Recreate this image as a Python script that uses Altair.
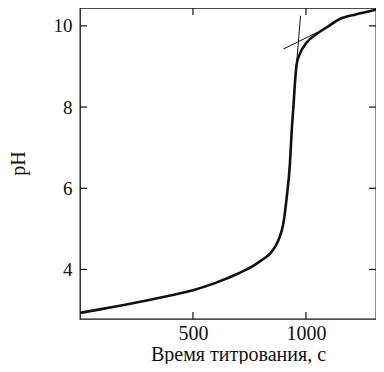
import altair as alt
import pandas as pd

# Titration curve (time in s, pH)
time_s = [0, 100, 200, 300, 400, 500, 600, 700, 770, 804, 841, 878, 900, 915, 929, 937,
          945, 951, 959, 973, 1003, 1047, 1091, 1150, 1220, 1290, 1345]
ph = [2.93, 3.03, 3.13, 3.24, 3.36, 3.49, 3.67, 3.90, 4.10, 4.23, 4.39, 4.72, 5.13, 5.78,
      6.60, 7.42, 8.05, 8.57, 9.06, 9.31, 9.59, 9.80, 9.96, 10.17, 10.28, 10.37, 10.45]

# construction lines
tangent_t = [900, 1050]
tangent_ph = [9.43, 9.84]
vertical_t = [976, 959]
vertical_ph = [10.25, 9.10]

x_ticks = [500, 1000]
y_ticks = [4, 6, 8, 10]

W, H = 296, 311
FONT = "Liberation Serif"
INK = "#111111"

curve_df = pd.DataFrame({"t": time_s, "ph": ph})
tan_df = pd.DataFrame({"t": tangent_t, "ph": tangent_ph})
vert_df = pd.DataFrame({"t": vertical_t, "ph": vertical_ph})
xt_df = pd.DataFrame({"t": x_ticks})
yt_df = pd.DataFrame({"ph": y_ticks})

xs = alt.Scale(domain=[0, 1310], nice=False, zero=False)
ys = alt.Scale(domain=[2.78, 10.44], nice=False, zero=False)

x_axis = alt.Axis(values=x_ticks, format="d", ticks=False, domain=False, grid=False,
                  labelFont=FONT, labelFontSize=20, labelColor=INK,
                  labelBaseline="alphabetic", labelPadding=20,
                  title="Время титрования, с", titleFont=FONT, titleFontSize=20,
                  titleFontWeight="normal", titleColor=INK,
                  titleX=158, titleY=41, titleBaseline="alphabetic")
y_axis = alt.Axis(values=y_ticks, format="d", ticks=False, domain=False, grid=False,
                  labelFont=FONT, labelFontSize=19, labelColor=INK,
                  labelPadding=8,
                  title="pH", titleFont=FONT, titleFontSize=20,
                  titleFontWeight="normal", titleColor=INK,
                  titleX=-62, titleY=155, titleAngle=-90, titleBaseline="middle")

X = alt.X("t:Q", scale=xs, axis=x_axis)
Y = alt.Y("ph:Q", scale=ys, axis=y_axis)

curve = alt.Chart(curve_df).mark_line(color=INK, strokeWidth=2.6, clip=True,
                                      interpolate="monotone").encode(x=X, y=Y)
tangent = alt.Chart(tan_df).mark_line(color=INK, strokeWidth=1).encode(x=X, y=Y)
vertical = alt.Chart(vert_df).mark_line(color=INK, strokeWidth=1).encode(x=X, y=Y)

tick_len = 7
bottom_ticks = alt.Chart(xt_df).mark_rule(color=INK, strokeWidth=1.2).encode(
    x=X, y=alt.value(H), y2=alt.value(H - tick_len))
top_ticks = alt.Chart(xt_df).mark_rule(color=INK, strokeWidth=1.2).encode(
    x=X, y=alt.value(0), y2=alt.value(tick_len))
left_ticks = alt.Chart(yt_df).mark_rule(color=INK, strokeWidth=1.2).encode(
    y=Y, x=alt.value(0), x2=alt.value(tick_len))
right_ticks = alt.Chart(yt_df).mark_rule(color=INK, strokeWidth=1.2).encode(
    y=Y, x=alt.value(W), x2=alt.value(W - tick_len))

chart = alt.layer(curve, tangent, vertical, bottom_ticks, top_ticks,
                  left_ticks, right_ticks).properties(
    width=W, height=H,
    autosize=alt.AutoSizeParams(type="none"),
    padding={"left": 72, "top": 0, "right": 0, "bottom": 45},
    background="white",
).configure_view(stroke=INK, strokeWidth=1.3)

chart.save("out.html", embed_options={"renderer": "svg", "actions": False})
